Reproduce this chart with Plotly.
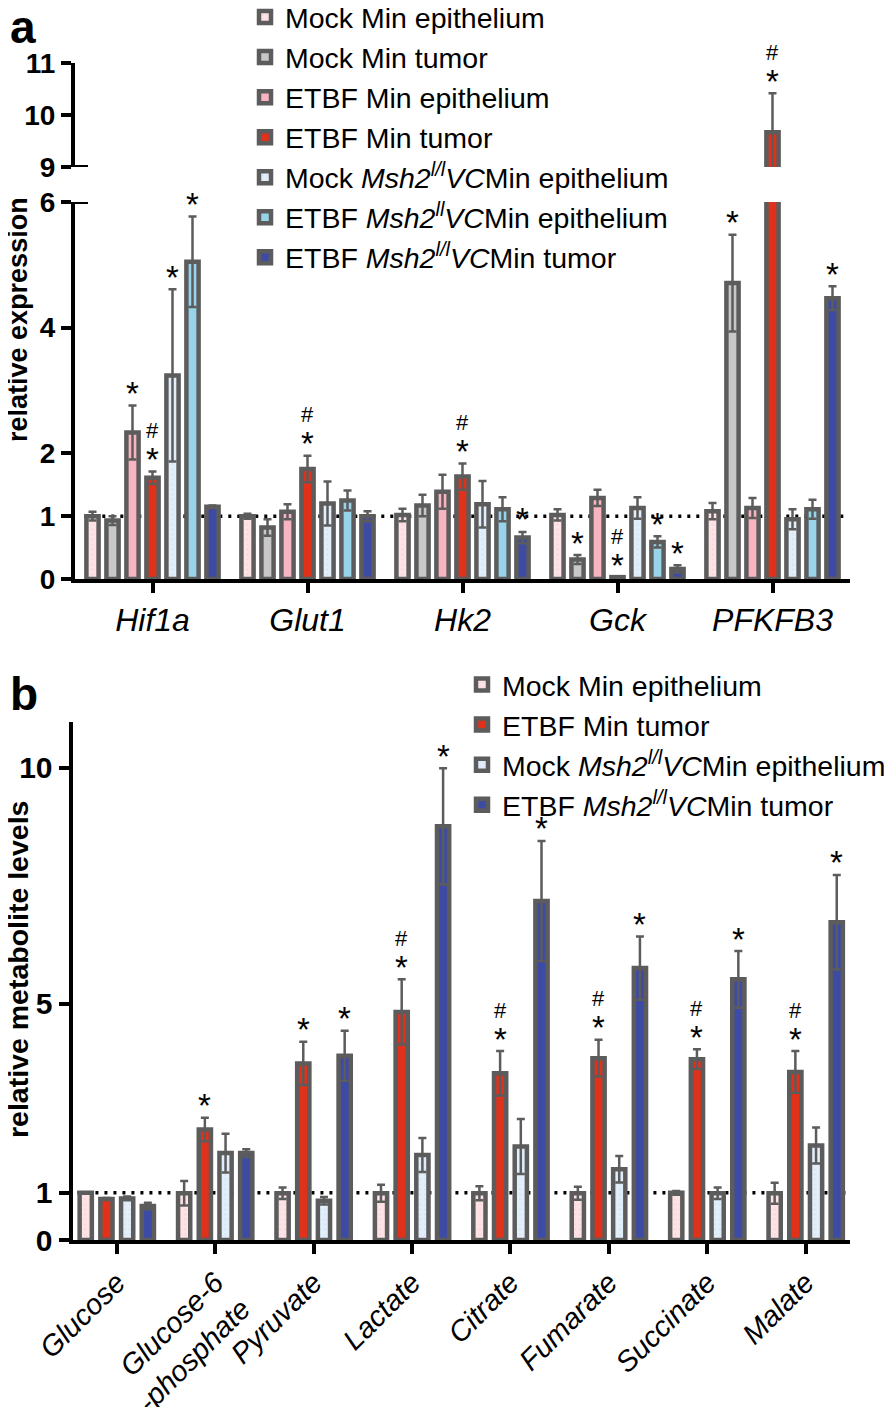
import plotly.graph_objects as go

FONT = "Liberation Sans, Arial, Helvetica, sans-serif"
OFF = 8            # the page body adds an 8px margin around the figure
W, H = 892 - OFF, 1407 - OFF

# ---------------- Panel a data ----------------
genes = ["<i>Hif1a</i>", "<i>Glut1</i>", "<i>Hk2</i>", "<i>Gck</i>", "<i>PFKFB3</i>"]

a_names = [
    "Mock Min epithelium",
    "Mock Min tumor",
    "ETBF Min epithelium",
    "ETBF Min tumor",
    "Mock <i>Msh2</i><sup><i>l/l</i></sup><i>VC</i>Min epithelium",
    "ETBF <i>Msh2</i><sup><i>ll</i></sup><i>VC</i>Min epithelium",
    "ETBF <i>Msh2</i><sup><i>l/l</i></sup><i>VC</i>Min tumor",
]
mock_min_epi = [1.00, 1.00, 1.02, 1.02, 1.08]
mock_min_epi_err = [0.07, 0.04, 0.10, 0.09, 0.13]
mock_min_tumor = [0.93, 0.82, 1.17, 0.31, 4.71]
mock_min_tumor_err = [0.07, 0.13, 0.17, 0.07, 0.77]
etbf_min_epi = [2.33, 1.07, 1.39, 1.29, 1.13]
etbf_min_epi_err = [0.43, 0.12, 0.27, 0.13, 0.16]
etbf_min_tumor = [1.61, 1.75, 1.63, 0.03, 9.67]
etbf_min_tumor_err = [0.10, 0.21, 0.21, 0.00, 0.75]
mock_msh2_epi = [3.24, 1.20, 1.19, 1.13, 0.95]
mock_msh2_epi_err = [1.37, 0.35, 0.37, 0.17, 0.16]
etbf_msh2_epi = [5.05, 1.25, 1.11, 0.59, 1.11]
etbf_msh2_epi_err = [0.72, 0.16, 0.19, 0.09, 0.15]
etbf_msh2_tumor = [1.15, 1.00, 0.66, 0.16, 4.47]
etbf_msh2_tumor_err = [0.02, 0.08, 0.09, 0.06, 0.19]

sig_mock_min_epi = ["", "", "", "", ""]
sig_mock_min_tumor = ["", "", "", "*", "*"]
sig_etbf_min_epi = ["*", "", "", "", ""]
sig_etbf_min_tumor = ["#*", "#*", "#*", "#*", "#*"]
sig_mock_msh2_epi = ["*", "", "", "", ""]
sig_etbf_msh2_epi = ["*", "", "", "*", ""]
sig_etbf_msh2_tumor = ["", "", "*", "*", "*"]

# ---------------- Panel b data ----------------
metabolites = ["<i>Glucose</i>", "<i>Glucose-6</i><br><i>-phosphate</i>", "<i>Pyruvate</i>",
               "<i>Lactate</i>", "<i>Citrate</i>", "<i>Fumarate</i>", "<i>Succinate</i>", "<i>Malate</i>"]
b_names = [
    "Mock Min epithelium",
    "ETBF Min tumor",
    "Mock <i>Msh2</i><sup><i>l/l</i></sup><i>VC</i>Min epithelium",
    "ETBF <i>Msh2</i><sup><i>l/l</i></sup><i>VC</i>Min tumor",
]
b_mock_min_epi = [1.00, 0.99, 0.99, 0.99, 0.99, 0.99, 1.00, 0.99]
b_mock_min_epi_err = [0.01, 0.26, 0.12, 0.18, 0.15, 0.14, 0.04, 0.22]
b_etbf_min_tumor = [0.87, 2.34, 3.74, 4.83, 3.53, 3.85, 3.83, 3.56]
b_etbf_min_tumor_err = [0.02, 0.25, 0.46, 0.69, 0.47, 0.39, 0.21, 0.44]
b_mock_msh2_epi = [0.88, 1.84, 0.83, 1.80, 1.98, 1.50, 0.99, 2.00]
b_mock_msh2_epi_err = [0.04, 0.41, 0.08, 0.36, 0.58, 0.28, 0.12, 0.38]
b_etbf_msh2_tumor = [0.72, 1.84, 3.90, 8.76, 7.18, 5.76, 5.52, 6.73]
b_etbf_msh2_tumor_err = [0.07, 0.08, 0.53, 1.23, 1.27, 0.67, 0.60, 1.00]

b_sig_mock_min_epi = ["", "", "", "", "", "", "", ""]
b_sig_etbf_min_tumor = ["", "*", "*", "#*", "#*", "#*", "#*", "#*"]
b_sig_mock_msh2_epi = ["", "", "", "", "", "", "", ""]
b_sig_etbf_msh2_tumor = ["", "", "*", "*", "*", "*", "*", "*"]

# ---------------- styles ----------------
C_MOCK_MIN_EPI = "#fde3e5"
C_MOCK_MIN_TUM = "#c9c7c8"
C_ETBF_MIN_EPI = "#f8b4c1"
C_ETBF_MIN_TUM = "#e0311b"
C_MOCK_MSH_EPI = "#e2eef9"
C_ETBF_MSH_EPI = "#97d4ea"
C_ETBF_MSH_TUM = "#3d4ba4"
OUTLINE = "#5c5c5c"
LW = 4.5

a_series = [
    (mock_min_epi, mock_min_epi_err, sig_mock_min_epi, C_MOCK_MIN_EPI, "#efc6ca"),
    (mock_min_tumor, mock_min_tumor_err, sig_mock_min_tumor, C_MOCK_MIN_TUM, None),
    (etbf_min_epi, etbf_min_epi_err, sig_etbf_min_epi, C_ETBF_MIN_EPI, None),
    (etbf_min_tumor, etbf_min_tumor_err, sig_etbf_min_tumor, C_ETBF_MIN_TUM, None),
    (mock_msh2_epi, mock_msh2_epi_err, sig_mock_msh2_epi, C_MOCK_MSH_EPI, "#c4d8ea"),
    (etbf_msh2_epi, etbf_msh2_epi_err, sig_etbf_msh2_epi, C_ETBF_MSH_EPI, None),
    (etbf_msh2_tumor, etbf_msh2_tumor_err, sig_etbf_msh2_tumor, C_ETBF_MSH_TUM, None),
]
b_series = [
    (b_mock_min_epi, b_mock_min_epi_err, b_sig_mock_min_epi, C_MOCK_MIN_EPI, "#efc6ca"),
    (b_etbf_min_tumor, b_etbf_min_tumor_err, b_sig_etbf_min_tumor, C_ETBF_MIN_TUM, None),
    (b_mock_msh2_epi, b_mock_msh2_epi_err, b_sig_mock_msh2_epi, C_MOCK_MSH_EPI, "#c4d8ea"),
    (b_etbf_msh2_tumor, b_etbf_msh2_tumor_err, b_sig_etbf_msh2_tumor, C_ETBF_MSH_TUM, None),
]

# page-pixel -> paper-fraction helpers
def px(x):
    return (x - OFF) / W

def py(y):
    return 1 - (y - OFF) / H

A_X0, A_X1 = 75, 850
B_X0, B_X1 = 72.5, 850
A_SLOT_PX, A_BAR_PX = 20.0, 16.7
B_SLOT_PX, B_BAR_PX = 20.7, 16.7
a_unit = (A_X1 - A_X0) / 5.0
b_unit = (B_X1 - B_X0) / 7.9
a_slot = A_SLOT_PX / a_unit
a_w = (A_BAR_PX - LW) / a_unit
b_slot = B_SLOT_PX / b_unit
b_w = (B_BAR_PX - LW) / b_unit

fig = go.Figure()
annotations = []


def marker_for(color, dotcol):
    m = dict(color=color, line=dict(color=OUTLINE, width=LW))
    if dotcol:
        m["pattern"] = dict(shape=".", fgcolor=dotcol, bgcolor=color, size=5, solidity=0.15)
    return m


def add_sig(xpos, top, sig, xref, yref):
    if "*" in sig:
        annotations.append(dict(x=xpos, y=top, xref=xref, yref=yref, text="*", showarrow=False,
                                yanchor="middle", yshift=12, font=dict(size=33, color="black", family=FONT)))
    if "#" in sig:
        annotations.append(dict(x=xpos, y=top, xref=xref, yref=yref, text="#", showarrow=False,
                                yanchor="middle", yshift=41, font=dict(size=22, color="black", family=FONT)))


n_a = len(a_series)
for i, (vals, errs, sigs, col, dotcol) in enumerate(a_series):
    xs = [g + (i - (n_a - 1) / 2) * a_slot for g in range(len(genes))]
    for yax, show in (("y", True), ("y2", False)):
        fig.add_trace(go.Bar(
            x=xs, y=vals, width=a_w, xaxis="x", yaxis=yax,
            marker=marker_for(col, dotcol),
            error_y=dict(type="data", array=errs, color=OUTLINE, thickness=2.5, width=4),
            name=a_names[i], showlegend=show, legend="legend", legendgroup="a%d" % i,
        ))
    for g, (v, e, s) in enumerate(zip(vals, errs, sigs)):
        if s:
            top = v + e
            add_sig(xs[g], top, s, "x", "y2" if top > 6 else "y")

n_b = len(b_series)
for i, (vals, errs, sigs, col, dotcol) in enumerate(b_series):
    xs = [g + (i - (n_b - 1) / 2) * b_slot for g in range(len(metabolites))]
    fig.add_trace(go.Bar(
        x=xs, y=vals, width=b_w, xaxis="x2", yaxis="y3",
        marker=marker_for(col, dotcol),
        error_y=dict(type="data", array=errs, color=OUTLINE, thickness=2.5, width=4),
        name=b_names[i], showlegend=True, legend="legend2", legendgroup="b%d" % i,
    ))
    for g, (v, e, s) in enumerate(zip(vals, errs, sigs)):
        if s:
            add_sig(xs[g], v + e, s, "x2", "y3")

axis_common = dict(showline=True, linecolor="black", linewidth=4, ticks="outside",
                   tickcolor="black", tickwidth=4, ticklen=10, showgrid=False, zeroline=False,
                   automargin=False)

fig.update_layout(
    width=W, height=H, margin=dict(l=0, r=0, t=0, b=0, autoexpand=False),
    paper_bgcolor="white", plot_bgcolor="white",
    barmode="overlay", font=dict(family=FONT, color="black"),
    xaxis=dict(domain=[px(A_X0), px(A_X1)], anchor="y", range=[-0.5, 4.5],
               tickvals=list(range(len(genes))), ticktext=genes,
               tickfont=dict(size=32, family=FONT), **axis_common),
    yaxis=dict(domain=[py(579), py(202)], anchor="x", range=[0, 6], tickvals=[0, 1, 2, 4, 6],
               tickfont=dict(size=28, family=FONT, weight="bold"), **axis_common),
    yaxis2=dict(domain=[py(167), py(63)], anchor="x", range=[9, 11], tickvals=[9, 10, 11],
                tickfont=dict(size=28, family=FONT, weight="bold"), **axis_common),
    xaxis2=dict(domain=[px(B_X0), px(B_X1)], anchor="y3", range=[-0.45, 7.45],
                tickvals=list(range(len(metabolites))), ticktext=metabolites, tickangle=-45,
                tickfont=dict(size=29, family=FONT), **axis_common),
    yaxis3=dict(domain=[py(1240), py(722)], anchor="x2", range=[0, 10.97], tickvals=[0, 1, 5, 10],
                tickfont=dict(size=30, family=FONT, weight="bold"), **axis_common),
    legend=dict(x=px(245), y=1 + 16.0 / H, xanchor="left", yanchor="top", bgcolor="rgba(0,0,0,0)",
                font=dict(size=28.5, family=FONT), tracegroupgap=5, traceorder="normal"),
    legend2=dict(x=px(462), y=py(685 - 25.5), xanchor="left", yanchor="top", bgcolor="rgba(0,0,0,0)",
                 font=dict(size=28.5, family=FONT), tracegroupgap=5, traceorder="normal"),
    showlegend=True,
)

shapes = [
    dict(type="line", xref="x", yref="y", x0=-0.44, x1=4.48, y0=1, y1=1, layer="below",
         line=dict(color="black", width=3.5, dash="3px,6px")),
    dict(type="line", xref="x2", yref="y3", x0=-0.4, x1=7.45, y0=1, y1=1, layer="below",
         line=dict(color="black", width=3.5, dash="3px,6px")),
    # axis break caps
    dict(type="line", xref="paper", yref="y", x0=px(A_X0 - 10), x1=px(A_X0 + 13), y0=6, y1=6,
         line=dict(color="black", width=4)),
    dict(type="line", xref="paper", yref="y2", x0=px(A_X0 - 10), x1=px(A_X0 + 13), y0=9, y1=9,
         line=dict(color="black", width=4)),
]

annotations += [
    dict(text="<b>a</b>", x=0, y=py(27), xref="paper", yref="paper", xanchor="left", yanchor="middle",
         showarrow=False, font=dict(size=46, family=FONT)),
    dict(text="<b>b</b>", x=0, y=py(694), xref="paper", yref="paper", xanchor="left", yanchor="middle",
         showarrow=False, font=dict(size=46, family=FONT)),
    dict(text="<b>relative expression</b>", x=px(18), y=py(320), xref="paper", yref="paper",
         xanchor="center", yanchor="middle",
         textangle=-90, showarrow=False, font=dict(size=27, family=FONT)),
    dict(text="<b>relative metabolite levels</b>", x=px(18), y=py(970), xref="paper", yref="paper",
         xanchor="center", yanchor="middle",
         textangle=-90, showarrow=False, font=dict(size=28.5, family=FONT)),
]

fig.update_layout(shapes=shapes, annotations=annotations)
fig.write_html("out.html")
